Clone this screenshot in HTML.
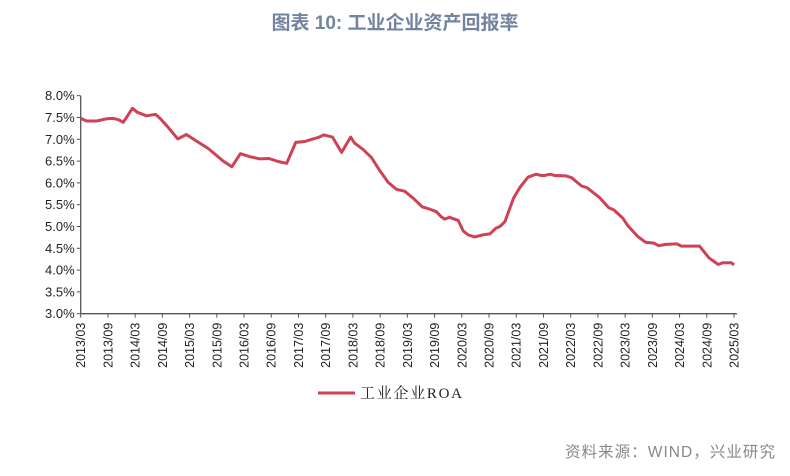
<!DOCTYPE html>
<html><head><meta charset="utf-8"><style>
body{margin:0;background:#fff;width:790px;height:471px;overflow:hidden;font-family:"Liberation Sans","Noto Sans CJK SC",sans-serif}
</style></head><body>
<svg width="790" height="471" xmlns="http://www.w3.org/2000/svg">
<text x="395" y="29" text-anchor="middle" font-size="19" font-weight="bold" fill="#7384a0" font-family="Liberation Sans, Noto Sans CJK SC, sans-serif">图表 10: 工业企业资产回报率</text>
<g id="axes"></g>
<path id="line" fill="none" stroke="#cf4154" stroke-width="3" stroke-linejoin="round"/>
<line x1="318" y1="393" x2="355" y2="393" stroke="#cf4154" stroke-width="3"/>
<text x="360" y="398" font-size="15" fill="#222" textLength="102" font-family="Liberation Serif, Noto Serif CJK SC, serif">工业企业ROA</text>
<text x="775" y="457" text-anchor="end" font-size="15.5" textLength="210" fill="#888" font-family="Liberation Sans, Noto Sans CJK SC, sans-serif">资料来源：WIND，兴业研究</text>
</svg>
<script>
const months=[0,1.3,3.5,5.7,7.2,8.3,9.4,11.4,12.5,14.5,16.5,17.5,19.3,21.4,23.3,25.5,28.1,29.6,31.4,33.3,35.2,37.3,39.5,41.5,43.5,45.4,47.4,49.4,51.2,52.3,53.6,55.5,57.5,59.5,60.4,62.2,64.1,65.8,67.8,69.6,71.4,73.3,75.3,76.9,78.4,79.5,80.2,81.3,83.2,84.3,85.4,86.8,88.7,90.2,91.5,92.4,93.5,95.4,96.9,98.6,100.4,101.5,102.2,103.5,104.5,107,108.2,110.4,111.6,114.4,116.4,117.5,119.5,120.6,122.8,124.5,126.3,127.4,129,131.4,132.4,136.4,138.5,140.5,141.6,143.4,144];
const values=[7.48,7.42,7.42,7.47,7.48,7.45,7.39,7.71,7.62,7.54,7.57,7.48,7.27,7.01,7.11,6.96,6.79,6.66,6.50,6.37,6.67,6.60,6.55,6.56,6.49,6.45,6.93,6.95,7.01,7.04,7.10,7.05,6.70,7.05,6.91,6.77,6.58,6.30,6.01,5.85,5.81,5.65,5.45,5.40,5.34,5.22,5.17,5.21,5.14,4.90,4.81,4.76,4.81,4.83,4.96,5.00,5.11,5.65,5.91,6.13,6.20,6.17,6.17,6.20,6.17,6.16,6.12,5.93,5.89,5.66,5.43,5.38,5.19,5.02,4.77,4.64,4.62,4.56,4.59,4.60,4.55,4.55,4.28,4.13,4.17,4.17,4.12];
const yTicks=["3.0%","3.5%","4.0%","4.5%","5.0%","5.5%","6.0%","6.5%","7.0%","7.5%","8.0%"];
const xLabels=["2013/03","2013/09","2014/03","2014/09","2015/03","2015/09","2016/03","2016/09","2017/03","2017/09","2018/03","2018/09","2019/03","2019/09","2020/03","2020/09","2021/03","2021/09","2022/03","2022/09","2023/03","2023/09","2024/03","2024/09","2025/03"];
const X0=80.7,X1=734,Y0=313.7,Y1=95.7,yMin=3,yMax=8,mMax=144;
const xs=m=>X0+(X1-X0)*m/mMax;
const ys=v=>Y0-(Y0-Y1)*(v-yMin)/(yMax-yMin);
const NS="http://www.w3.org/2000/svg";
const g=document.getElementById('axes');
function mk(t,a){const e=document.createElementNS(NS,t);for(const k in a)e.setAttribute(k,a[k]);g.appendChild(e);return e;}
const ya=mk('line',{x1:X0,y1:Y1,x2:X0,y2:Y0,stroke:'#555','stroke-width':1.3});


const xa=mk('line',{x1:X0,y1:Y0,x2:X1+3,y2:Y0,stroke:'#555','stroke-width':1.3});


yTicks.forEach(t=>{const v=parseFloat(t);const y=ys(v);
 mk('line',{x1:X0-4,y1:y,x2:X0,y2:y,stroke:'#555'});
 const e=mk('text',{x:X0-6,y:y+4.5,'text-anchor':'end','font-size':13,fill:'#222'});e.textContent=t;
 
 
});
xLabels.forEach((t,i)=>{const x=xs(i*6);
 mk('line',{x1:x,y1:Y0,x2:x,y2:Y0+4,stroke:'#555'});
 const e=mk('text',{x:0,y:0,'text-anchor':'end','font-size':12.5,fill:'#222',transform:`translate(${x+4.5},${Y0+9}) rotate(-90)`});e.textContent=t;
 
 
});
document.getElementById('line').setAttribute('d',months.map((m,i)=>(i?'L':'M')+xs(m).toFixed(1)+','+ys(values[i]).toFixed(1)).join(''));
</script>
</body></html>
